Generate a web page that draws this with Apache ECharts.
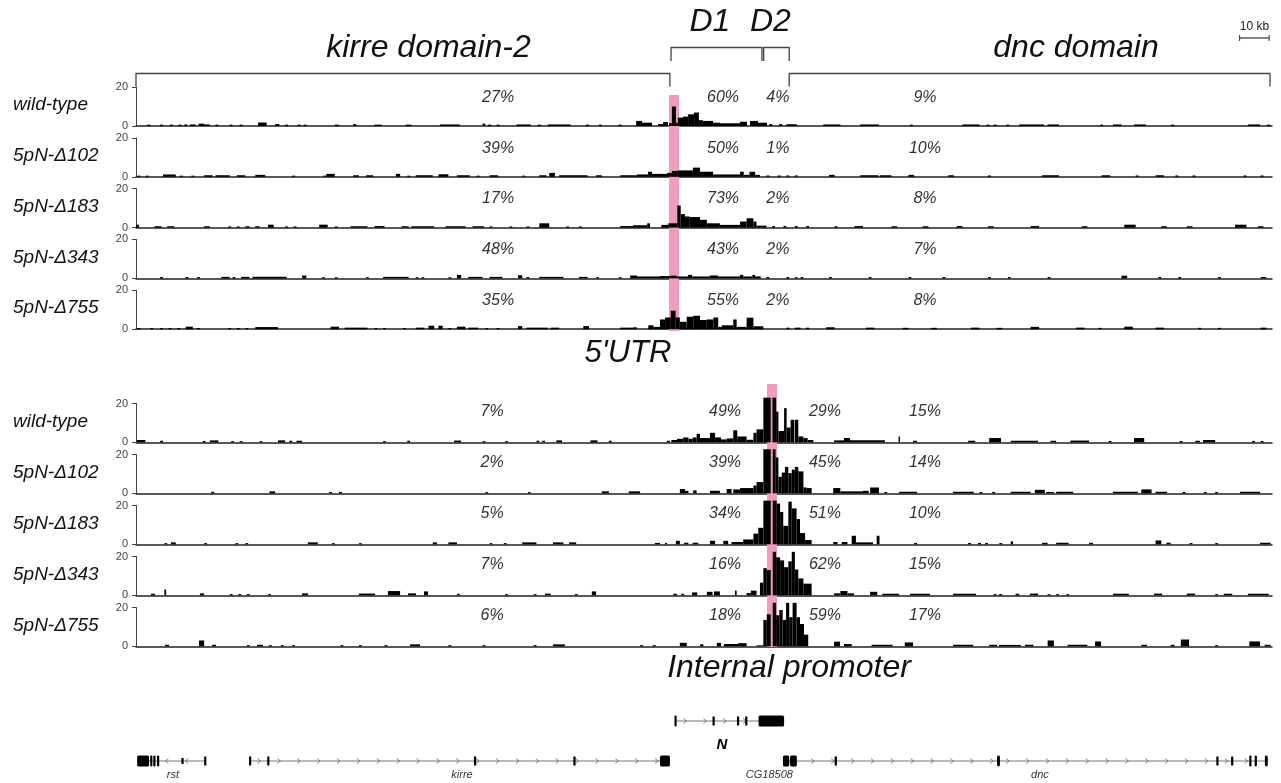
<!DOCTYPE html>
<html lang="en">
<head>
<meta charset="UTF-8">
<title>5'UTR and internal promoter capture</title>
<script src="https://cdn.jsdelivr.net/npm/echarts@6.0.0/dist/echarts.min.js"></script>
<style>
    html, body { margin: 0; padding: 0; background: #fff; }
    #chart { width: 1281px; height: 783px; }
</style>
</head>
<body>
<div id="chart"></div>
<script>
// track names (same order for both captures)
const trackNames = ['wild-type', '5pN-\u0394102', '5pN-\u0394183', '5pN-\u0394343', '5pN-\u0394755'];

// coverage as [start kb, end kb, reads] - 5'UTR capture
const utrWT = [[4,5,0.7],[8.5,9.5,0.7],[12,13,0.7],[15,16,0.7],[17,18,0.8],[19,21,0.8],[22,24,1.2],[24,26,0.8],[28,29,0.7],[33,34,0.7],[36.5,37.5,0.7],[43,46,1.8],[49,50.5,1],[52.5,53.5,0.7],[57,58,0.7],[59,60,0.7],[70,71.5,0.7],[76.5,77.5,1],[84,86.5,0.7],[95,97,0.7],[107,114,0.8],[122,123,1.2],[124,125,0.7],[127,128,0.7],[134,139,0.8],[141.5,142.5,0.7],[145,153,0.8],[158.5,159.5,0.7],[163,164,0.7],[170,171,0.7],
    [176.1,178.2,2.6],[178.2,181.7,1.7],[183.8,185.6,1],[185.6,187.3,2],[187.7,188.7,1.5],[188.7,190.1,10],[190.1,190.8,1.7],[190.8,192.6,4.3],[192.6,194.4,4.8],[194.4,196.5,6],[196.5,198.2,6.9],[198.2,199.6,3],[199.6,203.2,2.6],[203.2,205.6,1.7],[205.6,212.7,1.4],[212.7,215.1,2.2],[216.2,219,2.6],[219,222.2,1.7],[223,224,1],[226.5,227.5,1],
    [229,232.7,0.9],[242,248,0.8],[255,261.6,0.8],[272.5,273.5,0.7],[291,297,0.8],[299.5,300.5,0.7],[302,303,0.7],[306.5,307.5,0.7],[311,319.7,0.8],[321,325,0.8],[339.5,340.5,0.7],[344,347,0.8],[351.4,355.6,0.8],[364.5,365.5,0.7],[391.5,395.8,0.8],[398.3,399.3,0.7]];
const utrD102 = [[0.5,1.5,0.6],[3.5,4.5,0.6],[9.5,14,1.2],[15.5,16.5,0.6],[19.5,20.5,0.6],[24,27,0.8],[28,33,0.8],[35.5,38.5,0.8],[42,45.5,1],[55,56,0.6],[66,67,0.6],[67,70,1.5],[76.5,78.5,0.8],[81,83.5,0.8],[91.5,93,1.5],[95.5,96.5,0.6],[98.5,104.5,0.8],[106.5,110,1.3],[113,117.5,0.8],[120,121,0.6],[124.5,127.5,0.8],[136,137,0.6],[142,144.5,0.8],[145.5,147.5,2],[149,159,0.8],[162,164,0.8],[170.5,176.4,0.8],
    [176.4,180.3,1.2],[180.3,181.7,2.6],[181.7,187,1.5],[187,188.7,2],[188.7,190.8,3],[190.8,196.1,3.3],[196.1,198.6,4.7],[198.6,203.2,2.6],[203.2,212.7,1.2],[212.7,214,2.6],[214,216,1],[216,218,2.6],[218,219.7,1],[222,223,0.7],[226,227,0.7],[229,230,0.7],[232,233,0.7],
    [244,246,1],[255,261.5,0.8],[262,266,0.8],[272,274,1],[286,288,0.8],[300,301,0.7],[319,325,0.8],[340,343,0.8],[352,353,0.7],[359,362,0.8],[366,367,0.7],[372,373,0.7],[390,391,0.7],[396,397,0.7]];
const utrD183 = [[0,1,1.5],[6.5,9,0.7],[11,13.5,0.7],[24,26,0.7],[32.5,33.5,0.6],[35.5,36.5,0.6],[38.5,40,0.7],[42,43.5,0.7],[46.5,48.5,1.5],[52.5,53.5,0.6],[55.5,56.5,0.6],[64.5,67.5,1.5],[70,71,0.6],[75.5,81.5,0.7],[84,87.5,0.8],[93.5,96,0.7],[97,105,0.7],[109,116,0.7],[118.5,122.5,0.7],[124.5,125.5,0.6],[131.5,132.5,0.6],[137.5,138.5,0.6],[142,145.5,2.2],[151.5,152.5,0.6],[156,157,0.6],[170.5,175,0.8],
    [175,180,1.2],[180,181,2.2],[185,187.4,1.4],[187.4,190.6,2.2],[190.6,191.8,11.3],[191.8,193.3,6.9],[193.3,195,5.7],[195,198.6,5.4],[198.6,201,4],[201,205.6,2.2],[205.6,212.7,1.4],[212.7,215,3.1],[215,217.4,4.8],[217.4,218.5,3.1],[218.5,222,1],[224,225,0.8],[228,229,0.8],[232,233,0.8],[236,237,0.8],
    [246,247,0.7],[253,256,0.8],[266,268,0.7],[277,279,0.7],[289,291,0.8],[300,302,0.7],[315,318,0.8],[333,335,0.7],[348,352,1.5],[361,363,0.7],[370,372,0.7],[387,391,1.5],[395,397,0.7]];
const utrD343 = [[8.5,9.5,0.7],[17.5,18.5,0.7],[21.5,22.5,0.7],[30,33,0.8],[34,35,0.7],[37,40,0.8],[41,53,0.8],[58.5,60,1.5],[65.5,66.5,0.6],[70,71,0.6],[81,82,0.6],[87,96,0.8],[98.5,99.5,0.6],[100.5,101.5,0.6],[110,111,0.6],[113,114.5,1.8],[117,122,0.8],[124.5,129,0.8],[134.5,136,1.6],[137.5,138.5,0.7],[142,150.5,0.8],[156,159,0.8],[162,163,0.6],[170,171,0.6],[174,176.4,1.5],
    [176.4,184.5,1],[184.5,188,1.2],[188,190.4,1.4],[190.4,194.4,1],[194.4,195.8,1.8],[195.8,202,1],[202,205,1.5],[205,212.7,1],[212.7,213.8,1.8],[213.8,217,1],[217,218,1.8],[218,220,1],[222,223,0.7],[229,230,0.7],[232,233,0.6],[234,235,0.7],
    [244,245,0.7],[258,259,0.7],[272,273,0.7],[284,285,0.7],[300,301,0.7],[307,308,0.7],[321,322,0.7],[347,349,1.4],[360,361,0.7],[367,368,0.7],[381,382,0.7],[396,398,0.7]];
const utrD755 = [[0.5,1.5,0.6],[5,6,0.6],[8.5,9.5,0.6],[11.5,12.5,0.6],[14.5,15.5,0.6],[17.5,20,1.3],[21.5,22.5,0.6],[32.5,33.5,0.6],[35.5,36.5,0.6],[38.5,39.5,0.6],[42,50,1.1],[68.5,71.5,1.3],[73.5,81.5,0.8],[84,85,0.6],[87,88,0.6],[94,95,0.6],[98.5,101.5,0.8],[103,105,1.8],[106.5,108,1.8],[110,111,0.6],[113,116,1.3],[117,120.5,0.8],[123,124,0.6],[127,128,0.6],[134.5,136,1.6],[137.5,145,0.8],[146,149,0.8],[157.5,159.5,1.6],[170.5,175,0.8],
    [175.1,176.3,1],[180.4,182.2,2],[182.2,184.5,1.2],[184.5,186.3,5],[186.3,188.3,6],[188.3,190,9.5],[190,191.5,6],[191.5,193.9,3.8],[193.9,196.2,6.4],[196.2,198.6,6.9],[198.6,201,4.7],[201,203.3,5],[203.3,205,6],[205,206.2,1.2],[206.2,210.3,2],[210.3,211.5,5],[211.5,215,1.2],[215,217.4,5.9],[217.4,220.9,1.5],[229,230,0.8],[232,234,0.8],[236,237,0.8],
    [243,246,1],[257,260,0.8],[270,272,0.7],[280,282,0.7],[294,297,0.8],[303,305,0.7],[315,318,1.2],[331,334,0.8],[339,340,0.7],[348,351,1.3],[359,362,0.8],[374,375,0.7],[381,382,0.7],[396,398,0.8]];

// coverage as [start kb, end kb, reads] - internal promoter capture
const ipWT = [[0.3,3.3,1.2],[8.5,9.5,0.8],[23.5,24.5,0.7],[26,29,1],[33.5,34.5,0.6],[36.5,37.5,0.6],[43.5,44.5,0.6],[50,52.5,1],[54,55,0.8],[56.5,58.5,0.8],[87,88,0.6],[95.5,96.5,0.8],[112,114.5,0.9],[122,123,0.6],[130,131,0.6],[141,142,0.8],[143,144,0.8],[148,150,1],[160,162.5,1],[166.5,167.5,0.8],
    [186.9,188,0.8],[188.5,190.5,1.2],[190.5,192.7,1.8],[192.7,194.5,2.5],[194.5,196,1.8],[196,197.4,2.5],[197.4,198.6,4.4],[198.6,202.1,2.2],[202.1,203.9,4.9],[203.9,206,2.5],[206,208,1.5],[208,210.3,2],[210.3,211.7,6.2],[211.7,215,3],[215,217.4,1.3],[217.4,218.5,4.9],[218.5,220.9,6.7],[220.9,223.5,23],[224.1,225.4,23],[225.4,226.2,15.8],[226.2,228.2,5.8],[228.2,229.1,17.6],[229.1,230.5,7.6],[230.5,231.8,11.6],[232,233.2,11.6],[233.2,235,3],[235,236.5,2.2],[236.5,238.5,1.2],
    [245.8,249.3,1],[249.3,251.4,2.2],[251.4,263.7,1],[268.5,269,3],[273.6,275,0.8],[293,295.5,0.8],[300.4,304.6,2.2],[308,317.6,0.8],[322,324,0.8],[329,335.6,0.9],[342.5,343.5,0.7],[351.4,355,2.2],[367.5,368.5,0.7],[373,374.6,0.8],[375.7,380,1.2],[393,394,0.7],[396,397,0.7]];
const ipD102 = [[26.5,27.5,0.8],[47,49,1],[68,69,0.7],[71.5,72.5,0.7],[123,124,0.6],[138,139,0.6],[164,166.5,1],[173.5,177.5,1],
    [191.5,193.3,2.2],[193.3,194.5,1.3],[196.2,197.4,1.5],[202.1,205.6,1.3],[208,209.7,2.2],[210.3,212.7,2],[212.7,217.4,2.7],[217.4,218.5,4],[218.5,220.9,5.8],[220.9,223.5,22.7],[224.2,225.2,22.7],[225.2,226.2,18.5],[226.2,227.4,8.5],[227.4,228.5,10.7],[228.5,229.7,13.6],[229.7,230.9,10.4],[230.9,232,12.2],[232,233.2,13.6],[233.2,235,11.3],[235,236.2,3],[236.2,237.9,2.7],
    [245.5,248,2.7],[248,256,1],[256,258,1.3],[258.5,261.6,3],[263.5,264.5,0.7],[268.7,275,0.8],[287.7,295,0.8],[297,298,0.7],[301.5,302.5,0.7],[308,315,0.8],[316.5,320,1.8],[320.5,323.2,0.7],[324,330,0.8],[344,352.8,0.8],[354,357.6,2],[359,363,0.8],[368.5,369.5,0.7],[376,377,0.7],[380,381,0.7],[388.7,395.8,0.8]];
const ipD183 = [[10,11,0.6],[12.3,14,1],[24,25,0.6],[35,36,0.6],[38.5,39.5,0.6],[60.5,64,1],[69,70,0.6],[78.5,79.5,0.6],[104.5,106,1],[110,113,1],[124.5,125.5,0.6],[129.5,130.5,0.6],[136,141,1],[146.8,150.5,1],[152.5,155,1],
    [182.7,184.5,0.7],[186.3,187,0.7],[190.1,191.5,1.8],[193,194.5,0.8],[196,198,0.8],[202.1,203.9,1.8],[206.8,208.5,1.8],[209.7,213.8,1.2],[213.8,217.4,2.5],[217.4,219.1,5.5],[219.1,220.9,8.5],[220.9,223.5,22.5],[224.2,225.6,22.5],[225.6,226.8,21],[226.8,227.9,16.7],[227.9,229.7,9.5],[229.7,230.9,22],[230.9,232.6,18.5],[232.6,233.8,13],[233.8,235.6,5.8],[235.6,237.9,2.2],
    [245.5,247,1.2],[248.5,250.5,1.2],[252,253.5,4.4],[253.5,259.5,1],[260.8,261.8,4.4],[274,275,0.7],[293,294,0.7],[296.5,297.5,0.7],[299,300,0.7],[304,305,0.7],[308,308.8,1.5],[319,321,0.8],[324,328.4,0.8],[335.6,337,0.8],[359,361,2],[362.8,364.3,0.8],[371,372,0.7],[380,381,0.7],[395.8,399.5,0.8]];
const ipD343 = [[5.3,6.7,0.8],[10,10.6,3],[22.5,24,1],[33,34,0.6],[36,37,0.6],[39,40,0.6],[46.5,47.5,0.6],[58.5,60.6,1],[78.5,84.2,0.9],[88.7,93,2.2],[95.8,98.6,1],[101.4,102.8,2],[113,114,0.8],[130,131,0.6],[140,141,0.6],[144,146,0.9],[154.5,155.5,0.6],[160.5,162,2],
    [189.2,190.5,0.8],[192,193,0.8],[195.8,197.6,1.5],[201,203,1.8],[203.5,205.6,2],[210.9,211.5,2.4],[215,216.5,1.2],[216.5,218.5,2.4],[219.7,220.9,6.5],[220.9,222.1,14],[222.1,223.5,13],[224.2,225.4,22.4],[225.4,226.8,19.6],[226.8,228.2,18],[228.2,229.7,14.5],[229.7,230.9,17.5],[230.9,232,22.4],[232,233.2,13.3],[233.2,235,8.7],[235,237.9,6],
    [245.8,248,1],[248,250.5,2.2],[250.5,252.8,1],[258.5,261,1.8],[262.8,268.7,0.8],[272.5,279.6,0.8],[287.7,295.8,0.8],[302,303,0.6],[303.9,305,0.6],[309.7,311,0.8],[314.8,317.6,0.9],[321,322,0.6],[324,325,0.6],[327.6,328.6,0.6],[344,349.6,0.8],[358.5,361.3,0.9],[370,372.9,0.9],[380,381,0.6],[383,386,0.8],[391.5,398.8,0.8]];
const ipD755 = [[10.2,11.6,0.8],[22.2,24,3],[26.8,28.2,0.8],[39,40,0.6],[42.6,44.7,0.8],[46.8,47.8,0.6],[51,52,0.6],[55,56,0.6],[72,73,0.6],[78.5,79.5,0.6],[87.5,88.5,0.6],[96.5,100,1],[110,111,0.6],[122,123,0.6],[140,141,0.6],[146.8,151,1],
    [177.5,178.5,0.6],[182,183,0.6],[191.5,193.9,1.8],[198.6,199.8,1],[204.5,206,1.8],[207,212,1.2],[212,215,1.6],[218.5,220.9,0.5],[220.9,222.1,13.6],[222.1,223.5,16.5],[224.2,225.4,22.4],[225.4,226.5,16],[226.5,227.7,18.7],[227.7,228.9,13.6],[228.9,230,22.4],[230,231.2,15],[231.2,232.6,22.4],[232.6,233.8,15],[233.8,235.2,11.5],[235.2,236.7,6],
    [245.8,247.9,2.4],[249.3,252,1.2],[259,266.4,0.8],[270.7,273.6,2],[287.7,294.8,0.8],[300.4,303.2,0.8],[303.9,311.6,0.7],[313,316,0.8],[321,323.2,3],[328,335,0.8],[337.7,339.8,2.5],[354,356,0.8],[364.3,365.7,0.8],[367.9,370.8,3.5],[380,381,0.6],[392,395.8,2.5],[397.4,399.5,0.8]];

const utrTracks = [utrWT, utrD102, utrD183, utrD343, utrD755];
const ipTracks = [ipWT, ipD102, ipD183, ipD343, ipD755];

// percentage of reads per domain
const utrPctX = [127.5, 206.7, 226, 277.8];
const utrPct = [[27, 60, 4, 9], [39, 50, 1, 10], [17, 73, 2, 8], [48, 43, 2, 7], [35, 55, 2, 8]];
const ipPctX = [125.4, 207.4, 242.6, 277.8];
const ipPct = [[7, 49, 29, 15], [2, 39, 45, 14], [5, 34, 51, 10], [7, 16, 62, 15], [6, 18, 59, 17]];

// viewpoints (kb)
const viewpoints = [[187.7, 191.2], [222.2, 225.7]];

// domains: [start, end, level]
const domains = [[0, 188, 0], [188.4, 220.4, 1], [221, 230, 1], [230, 399.3, 0]];
const domainLabels = [['kirre domain-2', 103, 0], ['D1', 202.1, 1], ['D2', 223.4, 1], ['dnc domain', 331, 0]];
const scaleBar = [388.6, 399];

// genes: exons [start, end, kind] kind b = block, s = small
const genes = [
    { name: 'rst', row: 0, start: 0.4, end: 24.6, strand: -1, labelX: 13, exons: [[0.4, 4.6, 'b'], [5, 5.6, 'b'], [6.1, 6.7, 'b'], [7.4, 8, 'b'], [16, 16.3, 't'], [24, 24.6, 's']] },
    { name: 'kirre', row: 0, start: 39.8, end: 188, strand: 1, labelX: 114.8, exons: [[39.8, 40.3, 's'], [46.2, 46.8, 's'], [119, 119.6, 's'], [154, 154.6, 's'], [184.5, 188, 'b']] },
    { name: 'N', row: 1, start: 189.8, end: 228.2, strand: 1, labelX: 206.3, exons: [[189.6, 190.3, 'b'], [203, 203.4, 's'], [211.6, 212.2, 's'], [214.5, 215.1, 's'], [219.2, 228.2, 'b']] },
    { name: 'CG18508', row: 0, start: 227.8, end: 303.4, strand: 1, labelX: 223, exons: [[227.8, 230, 'b'], [230.3, 232.7, 'b'], [246, 246.8, 's']] },
    { name: 'dnc', row: 0, start: 303.4, end: 398.5, strand: 1, labelX: 318.3, exons: [[303.2, 304.2, 'b'], [380.4, 380.9, 's'], [385.6, 386.1, 's'], [392, 392.7, 'b'], [393.9, 394.6, 'b'], [397.5, 398.5, 'b']] }
];

const FONT = '"Liberation Sans", Arial, sans-serif';
const X_MAX = 400;
const topStart = 87, bottomStart = 403.5, step = [50.8, 51], trackH = [39, 38.8];
const rowY = [761, 721];
const exonHalf = { b: 5.5, s: 4.5, t: 3 };

const chart = echarts.init(document.getElementById('chart'));

const grids = [], xAxes = [], yAxes = [], series = [], graphics = [];

function barItem(params, api) {
    const p0 = api.coord([api.value(0), 0]);
    const p1 = api.coord([api.value(1), api.value(2)]);
    return {
        type: 'rect',
        shape: { x: p0[0], y: p1[1], width: Math.max(p1[0] - p0[0], 1.2), height: p0[1] - p1[1] },
        style: { fill: '#000' }
    };
}

function addTrack(g, data, pctX, pct, labelValue) {
    const idx = grids.length;
    const top = g === 0 ? topStart + step[0] * (idx % 5) : bottomStart + step[1] * (idx % 5);
    const h = trackH[g];
    grids.push({ left: 136, right: 9, top: top, height: h });
    xAxes.push({
        gridIndex: idx, type: 'value', min: 0, max: X_MAX,
        axisLine: { show: true, lineStyle: { color: '#222', width: 1.5 } },
        axisTick: { show: false }, axisLabel: { show: false }, splitLine: { show: false }
    });
    yAxes.push({
        gridIndex: idx, type: 'value', min: 0, max: 20, interval: 20, offset: 6,
        axisLine: { show: true, lineStyle: { color: '#444', width: 1 } },
        axisTick: { show: true, length: 4, lineStyle: { color: '#444' } },
        axisLabel: { fontSize: 11, color: '#444', margin: 2, fontFamily: FONT },
        splitLine: { show: false }
    });
    series.push({
        type: 'custom', xAxisIndex: idx, yAxisIndex: idx, z: 3, clip: false, silent: true,
        renderItem: barItem, encode: { x: [0, 1], y: 2 }, data: data
    });
    series.push({
        type: 'custom', xAxisIndex: idx, yAxisIndex: idx, z: 4, clip: false, silent: true,
        data: pctX.map((x, i) => [x, labelValue, pct[i]]),
        encode: { x: 0, y: 1 },
        renderItem: function (params, api) {
            const p = api.coord([api.value(0), api.value(1)]);
            return {
                type: 'text',
                style: {
                    text: api.value(2) + '%', x: p[0], y: p[1], align: 'center', verticalAlign: 'middle',
                    font: 'italic 16px ' + FONT, fill: '#333'
                }
            };
        }
    });
    graphics.push({
        type: 'text', left: 13, top: top + h / 2 - 11,
        style: { text: trackNames[idx % 5], font: 'italic 19px ' + FONT, fill: '#111' }
    });
}

utrTracks.forEach((d, i) => addTrack(0, d, utrPctX, utrPct[i], 14.7));
ipTracks.forEach((d, i) => addTrack(1, d, ipPctX, ipPct[i], 16));

// overlay grid in page pixels vertically, genomic kb horizontally
const ov = grids.length;
grids.push({ left: 136, right: 9, top: 0, bottom: 0 });
xAxes.push({ gridIndex: ov, type: 'value', min: 0, max: X_MAX, show: false });
yAxes.push({ gridIndex: ov, type: 'value', min: 0, max: 783, inverse: true, show: false });

const bandY = [[95, 331], [384, 647]];
series.push({
    type: 'custom', xAxisIndex: ov, yAxisIndex: ov, z: 1, clip: false, silent: true,
    data: viewpoints.map((v, i) => [v[0], v[1], i]), encode: { x: [0, 1] },
    renderItem: function (params, api) {
        const b = bandY[api.value(2)];
        const p0 = api.coord([api.value(0), b[0]]);
        const p1 = api.coord([api.value(1), b[1]]);
        return { type: 'rect', shape: { x: p0[0], y: p0[1], width: p1[0] - p0[0], height: p1[1] - p0[1] }, style: { fill: '#f19bbe' } };
    }
});

const bracketY = [[73.5, 86.5], [47.5, 61]];
series.push({
    type: 'custom', xAxisIndex: ov, yAxisIndex: ov, z: 4, clip: false, silent: true,
    data: domains, encode: { x: [0, 1] },
    renderItem: function (params, api) {
        const lv = bracketY[api.value(2)];
        const a = api.coord([api.value(0), lv[0]]);
        const b = api.coord([api.value(1), lv[1]]);
        return {
            type: 'polyline',
            shape: { points: [[a[0], b[1]], [a[0], a[1]], [b[0], a[1]], [b[0], b[1]]] },
            style: { stroke: '#444', lineWidth: 1.3, fill: null }
        };
    }
});

const domainLabelY = [[48, 32], [22, 32]];
series.push({
    type: 'custom', xAxisIndex: ov, yAxisIndex: ov, z: 4, clip: false, silent: true,
    data: domainLabels.map(d => [d[1], d[2], d[0]]), encode: { x: 0 },
    renderItem: function (params, api) {
        const lv = domainLabelY[api.value(1)];
        const p = api.coord([api.value(0), lv[0]]);
        return {
            type: 'text',
            style: { text: api.value(2), x: p[0], y: p[1], align: 'center', verticalAlign: 'middle', font: 'italic ' + lv[1] + 'px ' + FONT, fill: '#111' }
        };
    }
});

series.push({
    type: 'custom', xAxisIndex: ov, yAxisIndex: ov, z: 4, clip: false, silent: true,
    data: [scaleBar], encode: { x: [0, 1] },
    renderItem: function (params, api) {
        const a = api.coord([api.value(0), 38]);
        const b = api.coord([api.value(1), 38]);
        return {
            type: 'group', children: [
                { type: 'line', shape: { x1: a[0], y1: a[1], x2: b[0], y2: b[1] }, style: { stroke: '#333', lineWidth: 1.2 } },
                { type: 'line', shape: { x1: a[0], y1: a[1] - 3, x2: a[0], y2: a[1] + 3 }, style: { stroke: '#333', lineWidth: 1 } },
                { type: 'line', shape: { x1: b[0], y1: b[1] - 3, x2: b[0], y2: b[1] + 3 }, style: { stroke: '#333', lineWidth: 1 } },
                { type: 'text', style: { text: '10 kb', x: (a[0] + b[0]) / 2, y: 27, align: 'center', verticalAlign: 'middle', font: '12px ' + FONT, fill: '#222' } }
            ]
        };
    }
});

series.push({
    type: 'custom', xAxisIndex: ov, yAxisIndex: ov, z: 4, clip: false, silent: true,
    data: genes.map(g => [g.start, g.end]), encode: { x: [0, 1] },
    renderItem: function (params, api) {
        const g = genes[params.dataIndex];
        const y = rowY[g.row];
        const a = api.coord([g.start, y]);
        const b = api.coord([g.end, y]);
        const kids = [{ type: 'line', shape: { x1: a[0], y1: y, x2: b[0], y2: y }, style: { stroke: '#777', lineWidth: 1 } }];
        for (let k = g.start + 3.5; k < g.end - 2; k += 7) {
            const x = api.coord([k, y])[0];
            const d = g.strand;
            kids.push({ type: 'polyline', shape: { points: [[x - 1.5 * d, y - 2.5], [x + 1.5 * d, y], [x - 1.5 * d, y + 2.5]] }, style: { stroke: '#666', lineWidth: 0.8, fill: null } });
        }
        g.exons.forEach(e => {
            const x0 = api.coord([e[0], y])[0];
            const x1 = api.coord([e[1], y])[0];
            const hh = exonHalf[e[2]];
            kids.push({ type: 'rect', shape: { x: x0, y: y - hh, width: Math.max(x1 - x0, 2.2), height: hh * 2, r: e[2] === 'b' ? 1.5 : 0 }, style: { fill: '#000' } });
        });
        const lx = api.coord([g.labelX, y])[0];
        const isN = g.row === 1;
        kids.push({
            type: 'text',
            style: {
                text: g.name, x: lx, y: isN ? y + 24 : y + 14, align: 'center', verticalAlign: 'middle',
                font: isN ? 'italic bold 15px ' + FONT : 'italic 11px ' + FONT, fill: isN ? '#000' : '#333'
            }
        });
        return { type: 'group', children: kids };
    }
});

graphics.push({ type: 'text', x: 628, y: 353, style: { text: "5'UTR", font: 'italic 31px ' + FONT, fill: '#111', align: 'center', verticalAlign: 'middle' } });
graphics.push({ type: 'text', x: 789, y: 668, style: { text: 'Internal promoter', font: 'italic 32px ' + FONT, fill: '#111', align: 'center', verticalAlign: 'middle' } });

chart.setOption({
    animation: false,
    backgroundColor: '#fff',
    grid: grids,
    xAxis: xAxes,
    yAxis: yAxes,
    series: series,
    graphic: graphics
});
</script>
</body>
</html>
